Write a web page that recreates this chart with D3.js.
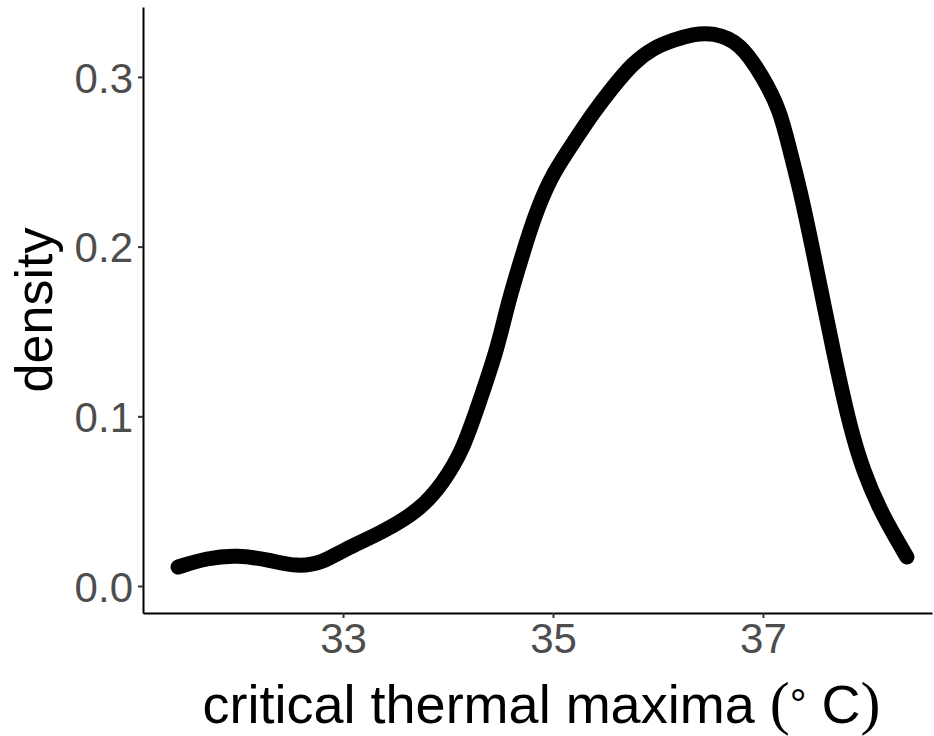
<!DOCTYPE html>
<html>
<head>
<meta charset="utf-8">
<script src="https://cdn.jsdelivr.net/npm/d3@7"></script>
<style>
  body { margin: 0; background: #fff; }
  svg { display: block; }
</style>
</head>
<body>
<div id="chart"></div>
<script>
document.addEventListener("DOMContentLoaded", function() {
  "use strict";

  // density curve
  const temps = [31.429, 31.705, 31.990, 32.305, 32.562, 32.810, 33.000, 33.381, 33.733, 33.952,
    34.143, 34.305, 34.467, 34.562, 34.657, 34.752, 34.857, 35.000, 35.210, 35.381,
    35.571, 35.762, 35.952, 36.143, 36.333, 36.524, 36.781, 37.000, 37.162, 37.257,
    37.352, 37.476, 37.686, 37.829, 37.952, 38.114, 38.276, 38.371];
  const densities = [0.0112, 0.0165, 0.0183, 0.0153, 0.0112, 0.0138, 0.0212, 0.0318, 0.0448, 0.0607,
    0.0801, 0.1096, 0.1391, 0.1644, 0.1844, 0.2039, 0.2233, 0.2434, 0.2628, 0.2787,
    0.2941, 0.3082, 0.3170, 0.3217, 0.3252, 0.3262, 0.3205, 0.3000, 0.2805, 0.2565,
    0.2340, 0.1980, 0.1332, 0.0937, 0.0684, 0.0448, 0.0271, 0.0171];
  const xTicks = [33, 35, 37];
  const yTicks = [0.0, 0.1, 0.2, 0.3];

  const data = temps.map((t, i) => ({x: t, y: densities[i]}));

  //---------------------------------
  /* sizes */
  const w = 934;
  const h = 736;
  const left = 143;
  const right = 932;
  const top = 7;
  const bottom = 613;

  const xScale = d3.scaleLinear()
    .domain([31.095, 38.61])
    .range([left, right]);

  const yScale = d3.scaleLinear()
    .domain([-0.0159, 0.3412])
    .range([bottom, top]);

  const svg = d3.select("#chart")
    .append("svg")
    .attr("width", w)
    .attr("height", h);

  //---------------------------------
  /* axes */
  const xAxis = d3.axisBottom(xScale)
    .tickValues(xTicks)
    .tickFormat(d3.format("d"))
    .tickSizeInner(5)
    .tickSizeOuter(0)
    .tickPadding(5);

  const gx = svg.append("g")
    .attr("transform", `translate(0, ${bottom})`)
    .call(xAxis);

  const yAxis = d3.axisLeft(yScale)
    .tickValues(yTicks)
    .tickFormat(d3.format(".1f"))
    .tickSizeInner(5)
    .tickSizeOuter(0)
    .tickPadding(5);

  const gy = svg.append("g")
    .attr("transform", `translate(${left}, 0)`)
    .call(yAxis);

  [gx, gy].forEach(function(g) {
    g.select(".domain")
      .attr("stroke", "#000")
      .attr("stroke-width", 2);
    g.selectAll(".tick line")
      .attr("stroke", "#333")
      .attr("stroke-width", 2);
    g.selectAll(".tick text")
      .attr("fill", "#4d4d4d")
      .style("font-family", "'Liberation Sans', Arial, sans-serif")
      .style("font-size", "42px");
  });
  gy.selectAll(".tick text").attr("dy", "0.36em");

  //---------------------------------
  /* density line, smoothed through the read points */
  const line = d3.line()
    .x(d => xScale(d.x))
    .y(d => yScale(d.y))
    .curve(d3.curveBasis);

  svg.append("path")
    .datum(data)
    .attr("d", line)
    .attr("fill", "none")
    .attr("stroke", "#000")
    .attr("stroke-width", 15)
    .attr("stroke-linecap", "round")
    .attr("stroke-linejoin", "round");

  //---------------------------------
  /* axis titles */
  const xt = svg.append("text")
    .attr("x", (left + right) / 2 + 4)
    .attr("y", 723)
    .attr("text-anchor", "middle")
    .attr("fill", "#000")
    .style("font-family", "'Liberation Sans', Arial, sans-serif")
    .style("font-size", "54px");
  xt.append("tspan").text("critical thermal maxima ");
  xt.append("tspan").style("font-family", "'Liberation Serif', serif").style("font-size", "60px").text("(");
  xt.append("tspan").style("font-size", "42px").attr("dy", "-4").text("\u00B0");
  xt.append("tspan").attr("dy", "4").text(" C");
  xt.append("tspan").style("font-family", "'Liberation Serif', serif").style("font-size", "60px").text(")");

  svg.append("text")
    .attr("transform", `translate(52, ${(top + bottom) / 2}) rotate(-90)`)
    .attr("text-anchor", "middle")
    .attr("fill", "#000")
    .style("font-family", "'Liberation Sans', Arial, sans-serif")
    .style("font-size", "52px")
    .text("density");
});
</script>
</body>
</html>
